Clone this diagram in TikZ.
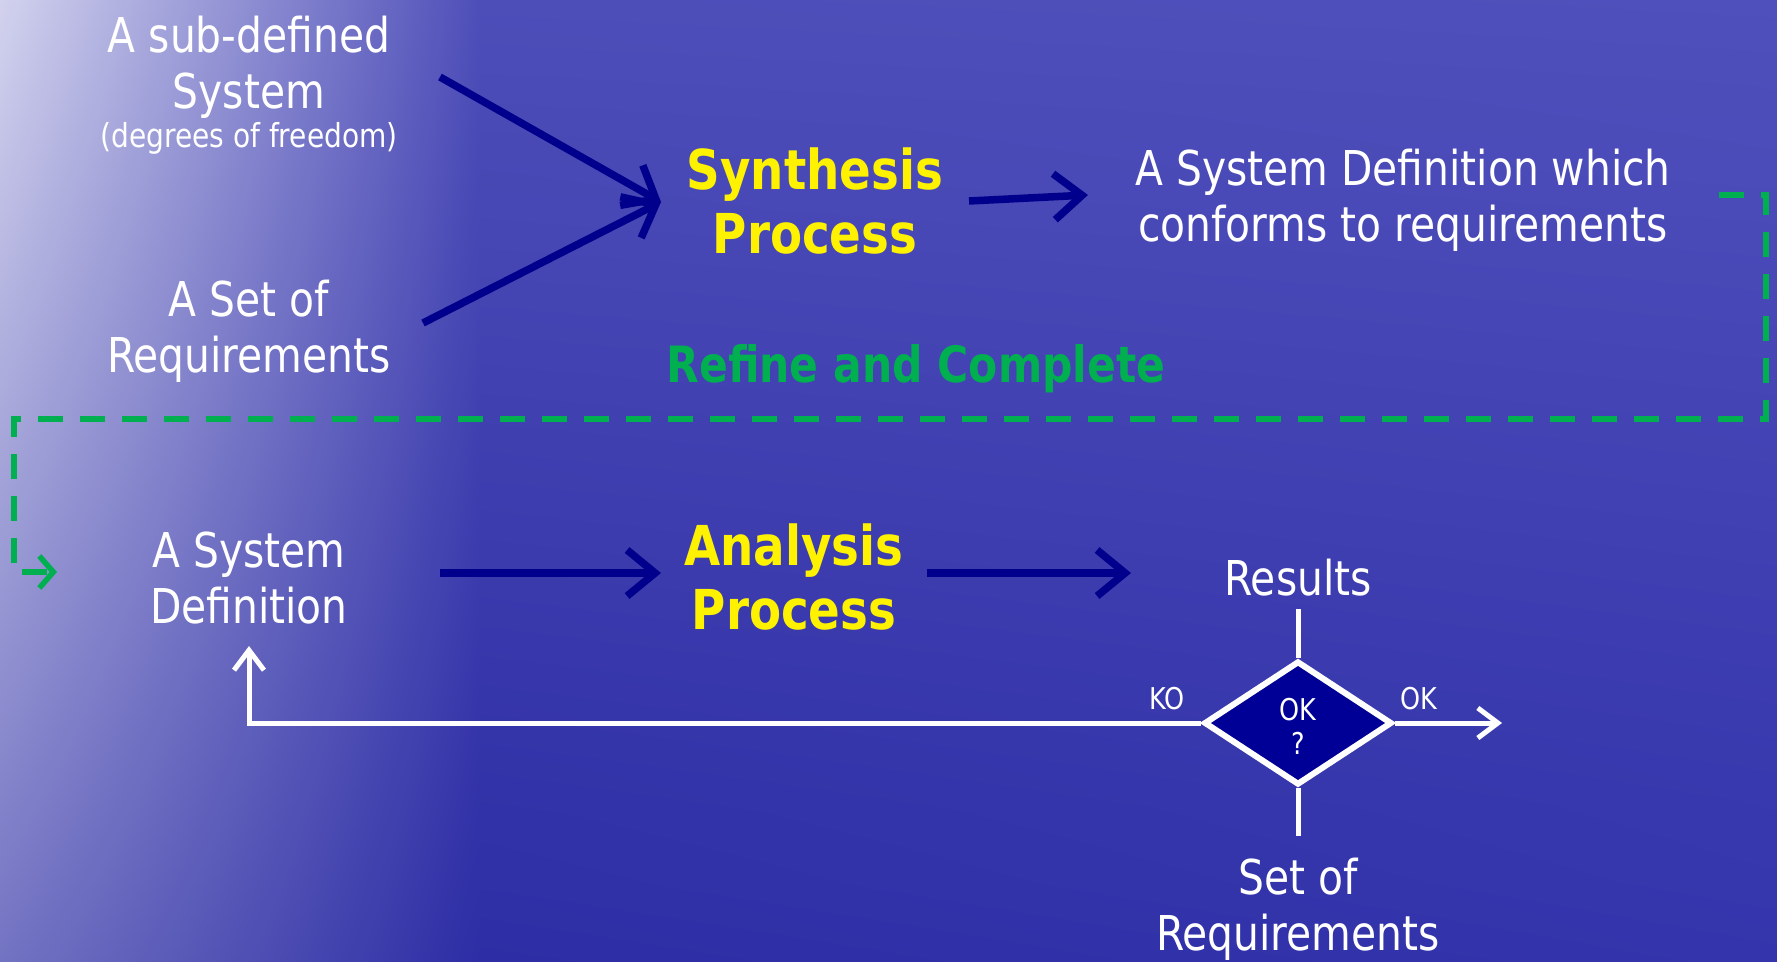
\documentclass[tikz,border=0pt]{standalone}
\usepackage{fontspec}
\setmainfont{DejaVu Sans}[FakeStretch=0.85]
\usepackage{tikz}
\usetikzlibrary{arrows.meta,shapes.geometric,shadings}
\definecolor{navy}{RGB}{0,0,140}
\definecolor{darkbox}{RGB}{0,0,150}
\definecolor{loopgreen}{RGB}{0,176,80}
\definecolor{seaA}{RGB}{210,210,238}
\definecolor{seaB}{RGB}{115,115,195}
\definecolor{seaC}{RGB}{78,78,185}
\definecolor{seaD}{RGB}{45,45,165}
\definecolor{seaE}{RGB}{80,80,188}
\definecolor{seaF}{RGB}{52,52,172}
\tikzstyle{plain text}   = [text=white, align=center, inner sep=0pt, font=\fontsize{48}{56}\selectfont]
\tikzstyle{small text}   = [text=white, align=center, inner sep=0pt, font=\fontsize{30}{34}\selectfont]
\tikzstyle{process text} = [text=yellow, align=center, inner sep=0pt, font=\bfseries\fontsize{55}{64}\selectfont]
\tikzstyle{navy arrow}   = [draw=navy, line width=7.5pt, -{Straight Barb[length=28pt,width=46pt]}]
\tikzstyle{white line}   = [draw=white, line width=5pt]
\tikzstyle{white arrow}  = [white line, -{Straight Barb[length=20pt,width=30pt]}]
\tikzstyle{decision}     = [diamond, draw=white, line width=6pt, fill=darkbox, inner sep=0pt,
                            minimum width=188pt, minimum height=124pt]

\begin{document}
\begin{tikzpicture}[x=1pt, y=-1pt]
\useasboundingbox (0,0) rectangle (1777,961);

% sea background
\shade[upper left=seaA, lower left=seaB, upper right=seaC, lower right=seaD] (0,0) rectangle (480,961);
\shade[upper left=seaC, lower left=seaD, upper right=seaE, lower right=seaF] (480,0) rectangle (1777,961);

% synthesis
\node[plain text, anchor=base] (sub) at (249,108) {A sub-defined\\System};
\node[plain text, anchor=base, font=\fontsize{33}{38}\selectfont] (dof) at (249,147) {(degrees of freedom)};
\node[plain text, anchor=base] (req) at (249,372) {A Set of\\Requirements};
\node[process text, anchor=base] (synth) at (815,253) {Synthesis\\Process};
\node[plain text, anchor=base] (conf) at (1403,241) {A System Definition which\\conforms to requirements};
\node[anchor=base, inner sep=0pt, text=loopgreen, font=\bfseries\fontsize{50}{58}\selectfont] (refine) at (916,382) {Refine and Complete};

\coordinate (sub out) at (440,77);
\coordinate (req out) at (423,323);
\coordinate (synth in) at (661,202);
\coordinate (synth out) at (969,201);
\coordinate (conf in) at (1088,195);
\draw[navy arrow] (sub out) -- (synth in);
\draw[navy arrow] (req out) -- (synth in);
\draw[navy arrow] (synth out) -- (conf in);

% refine loop
\coordinate (loop start) at (1719,195);
\coordinate (loop turn) at (14,419);
\coordinate (loop end) at (57,572);
\draw[loopgreen, line width=5.5pt, dash pattern=on 25pt off 17pt, -{Straight Barb[length=14pt,width=32pt]}]
     (loop start) -- ++(47,0) |- (loop turn) |- (loop end);

% analysis
\node[plain text, anchor=base] (sysdef) at (249,623) {A System\\Definition};
\node[process text, anchor=base] (analysis) at (794,629) {Analysis\\Process};
\node[plain text, anchor=base] (results) at (1298,595) {Results};
\node[plain text, anchor=base] (setreq) at (1298,950) {Set of\\Requirements};

\coordinate (def out) at (440,573);
\coordinate (analysis in) at (661,573);
\coordinate (analysis out) at (927,573);
\coordinate (results in) at (1131,573);
\draw[navy arrow] (def out) -- (analysis in);
\draw[navy arrow] (analysis out) -- (results in);

\node[decision] (ok) at (1298,723) {};
\node[small text, anchor=base] (okq) at (1298,754) {OK\\?};
\node[small text, anchor=base] (ko label) at (1167,709) {KO};
\node[small text, anchor=base] (ok label) at (1419,709) {OK};

\coordinate (res foot) at (1298,609);
\coordinate (req head) at (1298,836);
\coordinate (def in) at (249,646);
\coordinate (ok out) at (1502,723);
\draw[white line] (res foot) -- (ok.north);
\draw[white line] (ok.south) -- (req head);
\draw[white arrow] (ok.west) -| (def in);
\draw[white arrow] (ok.east) -- (ok out);

\end{tikzpicture}
\end{document}
